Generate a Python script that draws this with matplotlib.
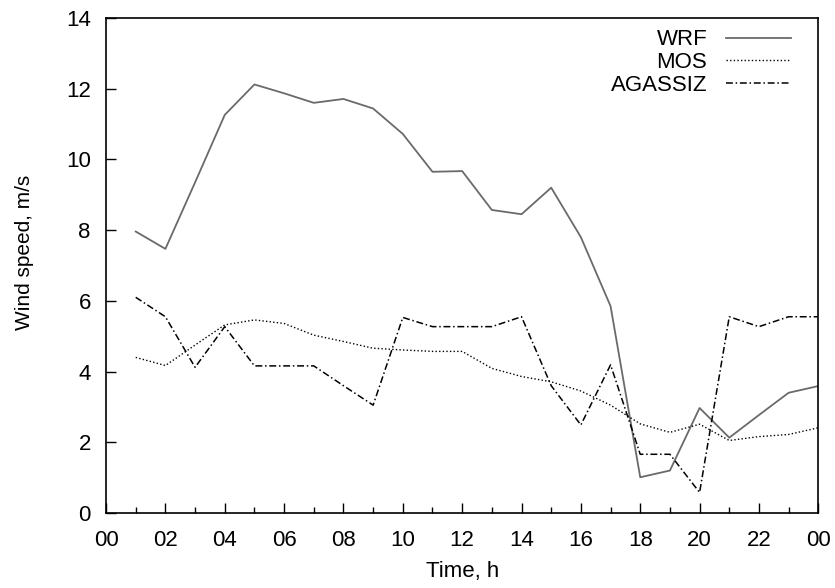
import matplotlib
matplotlib.use("Agg")
import matplotlib.pyplot as plt
import numpy as np

plt.rcParams['font.family'] = ['Liberation Sans', 'DejaVu Sans']

hours = list(range(1, 25))
wrf = [7.96, 7.47, 9.35, 11.26, 12.12, 11.87, 11.6, 11.71, 11.44, 10.72, 9.65, 9.67,
       8.57, 8.45, 9.2, 7.8, 5.85, 1.01, 1.2, 2.97, 2.13, 2.77, 3.4, 3.59]
mos = [4.4, 4.17, 4.75, 5.32, 5.46, 5.36, 5.03, 4.85, 4.66, 4.61, 4.57, 4.57,
       4.09, 3.86, 3.71, 3.45, 3.05, 2.52, 2.28, 2.51, 2.05, 2.16, 2.22, 2.41]
agassiz = [6.1, 5.55, 4.12, 5.27, 4.16, 4.16, 4.16, 3.6, 3.05, 5.53, 5.27, 5.27,
           5.27, 5.55, 3.6, 2.49, 4.19, 1.66, 1.66, 0.58, 5.55, 5.27, 5.55, 5.55]
xtick_labels = ['00', '02', '04', '06', '08', '10', '12', '14', '16', '18', '20', '22', '00']

fig = plt.figure(figsize=(8.35, 5.88), dpi=100)
ax = fig.add_axes([0.127, 0.1276, 0.853, 0.8418])

ax.plot(hours, wrf, color='#6a6a6a', lw=1.3, label='WRF')
ax.plot(hours, mos, color='black', lw=1.0, linestyle=(0, (1, 1.6)), label='MOS')
ax.plot(hours, agassiz, color='black', lw=1.1, linestyle=(0, (4.5, 1.8, 1, 1.8)), label='AGASSIZ')

ax.set_xlim(0, 24)
ax.set_ylim(0, 14)
ax.set_xticks(range(0, 25, 2))
ax.set_xticklabels(xtick_labels)
ax.set_xticks(range(1, 24, 2), minor=True)
ax.set_yticks(range(0, 15, 2))
ax.tick_params(axis='both', which='major', direction='in', length=7, width=1,
               labelsize=16, top=False, right=False)
ax.tick_params(axis='x', which='major', pad=12)
ax.tick_params(axis='y', which='major', pad=11)
ax.tick_params(axis='x', which='minor', direction='in', length=4, width=1, top=False)
for s in ax.spines.values():
    s.set_linewidth(1.2)

ax.set_xlabel('Time, h', fontsize=16)
ax.xaxis.set_label_coords(0.5, -0.098)
ax.set_ylabel('Wind speed, m/s', fontsize=15)
ax.yaxis.set_label_coords(-0.101, 0.527)

ax.legend(loc='upper right', frameon=False, markerfirst=False, fontsize=16,
          handlelength=2.9, handletextpad=0.85, labelspacing=0.08,
          borderpad=0, borderaxespad=0, bbox_to_anchor=(0.961, 0.977))

fig.savefig('out.png', dpi=100)
